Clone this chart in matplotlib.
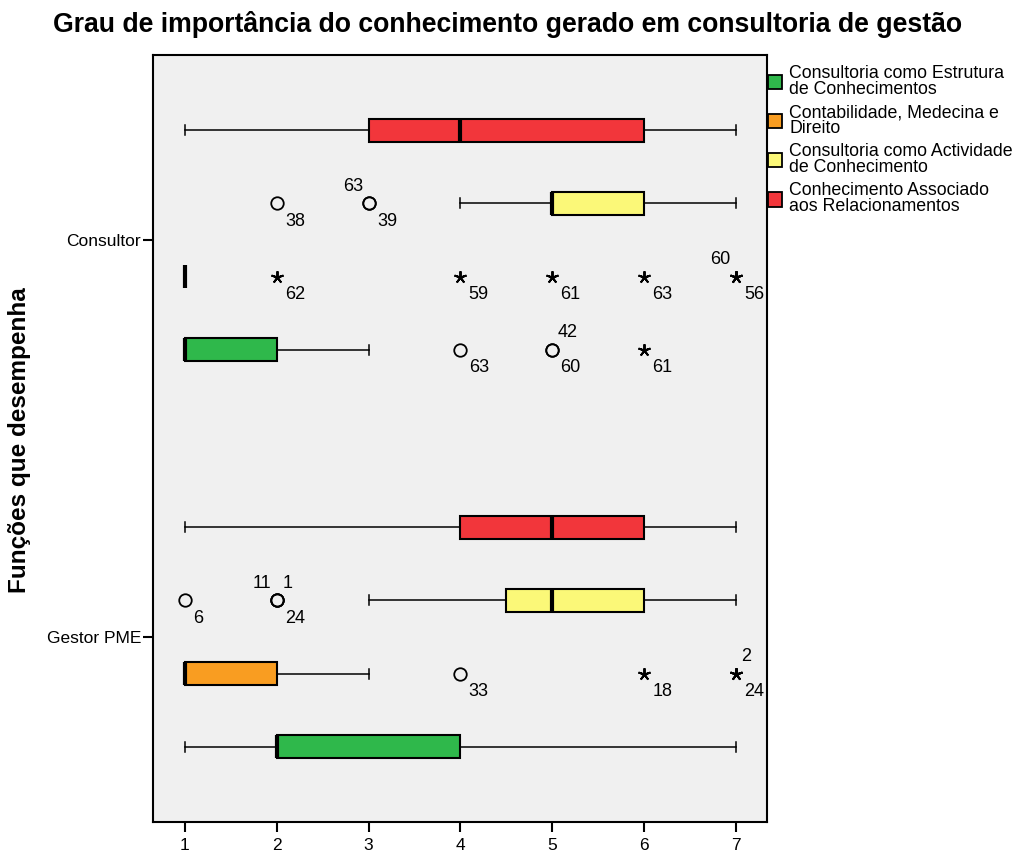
import matplotlib
matplotlib.use("Agg")
import matplotlib.pyplot as plt
from matplotlib.patches import Patch

plt.rcParams["font.family"] = ["Liberation Sans", "DejaVu Sans"]

groups = ["Consultor", "Gestor PME"]
series = [
    "Consultoria como Estrutura\nde Conhecimentos",
    "Contabilidade, Medecina e\nDireito",
    "Consultoria como Actividade\nde Conhecimento",
    "Conhecimento Associado\naos Relacionamentos",
]
colors = ["#2fb84b", "#f99d21", "#fbf878", "#f2363b"]

# box summaries: one row per group, one column per series
whislo = [[1, 1, 4, 1], [1, 1, 3, 1]]
q1 = [[1, 1, 5, 3], [2, 1, 4.5, 4]]
med = [[1, 1, 5, 4], [2, 1, 5, 5]]
q3 = [[2, 1, 6, 6], [4, 2, 6, 6]]
whishi = [[3, 1, 7, 7], [7, 3, 7, 7]]

# outlying cases ("o" = outlier, "*" = extreme) with their case numbers
out_group = [0, 0, 0, 0, 0, 0, 0, 0, 0, 0, 1, 1, 1, 1, 1]
out_series = [2, 2, 1, 1, 1, 1, 1, 0, 0, 0, 2, 2, 1, 1, 1]
out_value = [2, 3, 2, 4, 5, 6, 7, 4, 5, 6, 1, 2, 4, 6, 7]
out_kind = ["o", "o", "*", "*", "*", "*", "*", "o", "o", "*", "o", "o", "o", "*", "*"]
case_below = ["38", "39", "62", "59", "61", "63", "56", "63", "60", "61", "6", "24", "33", "18", "24"]
case_above_left = ["", "63", "", "", "", "", "60", "", "", "", "", "11", "", "", ""]
case_above_right = ["", "", "", "", "", "", "", "", "42", "", "", "1", "", "", "2"]

step = 0.184
offsets = [1.5 * step, 0.5 * step, -0.5 * step, -1.5 * step]
box_h = 0.056

fig = plt.figure(figsize=(10.19, 8.51), dpi=100)
ax = fig.add_axes([0.150, 0.0341, 0.6026, 0.9013])
ax.set_facecolor("#f0f0f0")

stats, positions = [], []
for g in range(len(groups)):
    for s in range(len(series)):
        stats.append(dict(whislo=whislo[g][s], q1=q1[g][s], med=med[g][s],
                          q3=q3[g][s], whishi=whishi[g][s], fliers=[]))
        positions.append(g + offsets[s])

kw = dict(positions=positions, widths=box_h, capwidths=box_h * 0.45,
          patch_artist=True, showfliers=False,
          boxprops=dict(edgecolor="black", linewidth=1.5),
          medianprops=dict(color="black", linewidth=3, solid_capstyle="butt"),
          whiskerprops=dict(color="black", linewidth=1.1),
          capprops=dict(color="black", linewidth=1.1))
try:
    bp = ax.bxp(stats, orientation="horizontal", **kw)
except TypeError:
    bp = ax.bxp(stats, vert=False, **kw)

for i, box in enumerate(bp["boxes"]):
    box.set_facecolor(colors[i % len(series)])

for g, s, v, k, lb, la, ra in zip(out_group, out_series, out_value, out_kind,
                                  case_below, case_above_left, case_above_right):
    y = g + offsets[s]
    n = len([c for c in (lb, la, ra) if c])
    for _ in range(n):
        if k == "o":
            ax.plot(v, y, "o", ms=9, mfc="none", mec="black", mew=1.3)
        else:
            ax.plot(v, y, marker=(5, 2, 0), ms=9, color="black", mew=1.4)
    txt = dict(textcoords="offset points", fontsize=13, va="center")
    ax.annotate(lb, (v, y), xytext=(6, -13), ha="left", **txt)
    if la:
        ax.annotate(la, (v, y), xytext=(-4, 12.5), ha="right", **txt)
    if ra:
        ax.annotate(ra, (v, y), xytext=(4, 12.5), ha="left", **txt)

ax.set_xlim(0.651, 7.338)
ax.set_ylim(1.466, -0.466)
ax.set_xticks(range(1, 8))
ax.set_yticks(range(len(groups)), groups)
ax.tick_params(axis="both", direction="out", length=7.5, width=1.5, labelsize=12.5)
ax.tick_params(axis="x", pad=4)
ax.tick_params(axis="y", pad=1)
for sp in ax.spines.values():
    sp.set_linewidth(1.5)

handles = [Patch(facecolor=c, edgecolor="black", linewidth=1.3) for c in colors]
leg = fig.legend(handles, series, loc="upper left",
                 bbox_to_anchor=(768 / 1019, 1 - 65 / 851),
                 frameon=False, fontsize=12.8, borderpad=0, borderaxespad=0,
                 handlelength=0.8, handleheight=0.9, handletextpad=0.4,
                 labelspacing=0.32)
for t in leg.get_texts():
    t.set_linespacing(0.95)

fig.text(0.498, 1 - 25 / 851, "Grau de importância do conhecimento gerado em consultoria de gestão",
         ha="center", va="center", fontsize=19.2, fontweight="bold")
fig.text(20 / 1019, 1 - 440 / 851, "Funções que desempenha", rotation=90,
         ha="center", va="center", fontsize=17.5, fontweight="bold")

fig.savefig("out.png", dpi=100)
